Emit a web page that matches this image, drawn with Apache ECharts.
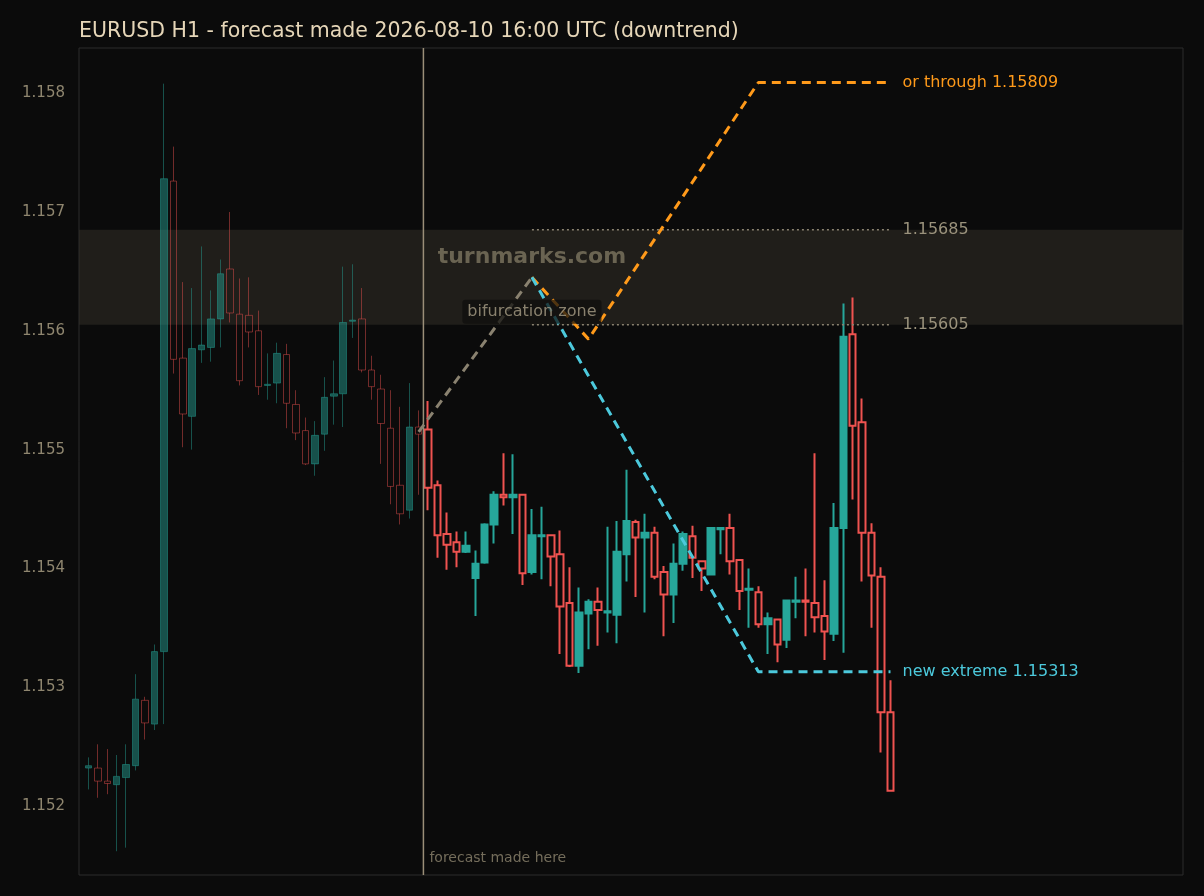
<!DOCTYPE html>
<html><head><meta charset="utf-8">
<script src="https://cdn.jsdelivr.net/npm/echarts@6/dist/echarts.min.js"></script>
<style>html,body{margin:0;background:#0b0b0b}#c{width:1204px;height:896px}</style>
</head><body><div id="c"></div>
<script>
// OHLC candles (index 0..85), forecast made after candle 35
const opens  = [1.15232,1.15232,1.15221,1.15218,1.15224,1.15234,1.15289,1.15269,1.15330,1.15726,1.15577,1.15528,1.15584,1.15586,1.15610,1.15652,1.15614,1.15613,1.15600,1.15554,1.15556,1.15580,1.15538,1.15516,1.15488,1.15513,1.15545,1.15547,1.15608,1.15610,1.15567,1.15551,1.15518,1.15470,1.15449,1.15519,
1.15517,1.15470,1.15429,1.15422,1.15414,1.15392,1.15405,1.15437,1.15462,1.15460,1.15462,1.15397,1.15427,1.15428,1.15412,1.15371,1.15318,1.15362,1.15372,1.15363,1.15361,1.15412,1.15439,1.15426,1.15430,1.15397,1.15378,1.15404,1.15427,1.15406,1.15395,1.15433,1.15434,1.15407,1.15382,1.15380,1.15353,1.15357,1.15340,1.15372,1.15373,1.15371,1.15360,1.15345,1.15434,1.15597,1.15523,1.15430,1.15393,1.15279];
const closes = [1.15234,1.15221,1.15219,1.15225,1.15235,1.15290,1.15270,1.15330,1.15728,1.15576,1.15530,1.15585,1.15588,1.15610,1.15648,1.15615,1.15558,1.15599,1.15553,1.15555,1.15581,1.15539,1.15514,1.15488,1.15512,1.15544,1.15547,1.15607,1.15609,1.15567,1.15553,1.15522,1.15469,1.15446,1.15519,1.15513,
1.15468,1.15428,1.15420,1.15414,1.15419,1.15404,1.15437,1.15462,1.15460,1.15462,1.15396,1.15428,1.15428,1.15410,1.15368,1.15318,1.15363,1.15372,1.15365,1.15364,1.15414,1.15440,1.15426,1.15430,1.15393,1.15378,1.15404,1.15429,1.15409,1.15400,1.15434,1.15434,1.15406,1.15381,1.15383,1.15353,1.15358,1.15336,1.15373,1.15373,1.15372,1.15359,1.15347,1.15434,1.15595,1.15520,1.15430,1.15394,1.15279,1.15213];
const lows   = [1.15214,1.15207,1.15210,1.15162,1.15165,1.15230,1.15256,1.15264,1.15269,1.15564,1.15502,1.15500,1.15573,1.15574,1.15586,1.15607,1.15554,1.15586,1.15546,1.15542,1.15539,1.15518,1.15508,1.15487,1.15478,1.15499,1.15521,1.15519,1.15594,1.15565,1.15542,1.15488,1.15454,1.15437,1.15442,1.15462,
1.15449,1.15409,1.15399,1.15401,1.15413,1.15360,1.15404,1.15421,1.15453,1.15429,1.15386,1.15395,1.15391,1.15385,1.15328,1.15317,1.15312,1.15332,1.15335,1.15346,1.15337,1.15389,1.15376,1.15363,1.15391,1.15343,1.15354,1.15398,1.15392,1.15381,1.15395,1.15412,1.15395,1.15365,1.15350,1.15350,1.15328,1.15321,1.15333,1.15358,1.15343,1.15346,1.15323,1.15339,1.15329,1.15458,1.15389,1.15350,1.15245,1.15213];
const highs  = [1.15241,1.15252,1.15248,1.15243,1.15252,1.15311,1.15292,1.15336,1.15808,1.15755,1.15641,1.15636,1.15671,1.15634,1.15660,1.15700,1.15644,1.15645,1.15617,1.15581,1.15590,1.15589,1.15550,1.15527,1.15524,1.15561,1.15575,1.15654,1.15656,1.15636,1.15579,1.15563,1.15550,1.15536,1.15556,1.15533,
1.15541,1.15474,1.15447,1.15431,1.15431,1.15415,1.15438,1.15465,1.15497,1.15496,1.15462,1.15450,1.15452,1.15428,1.15432,1.15401,1.15384,1.15374,1.15384,1.15435,1.15440,1.15483,1.15441,1.15446,1.15435,1.15402,1.15421,1.15431,1.15436,1.15406,1.15434,1.15434,1.15446,1.15407,1.15400,1.15385,1.15363,1.15357,1.15373,1.15393,1.15400,1.15497,1.15390,1.15455,1.15623,1.15628,1.15543,1.15438,1.15401,1.15306];
const forecastIndex = 36; // first candle after forecast
const bifHigh = 1.15685, bifLow = 1.15605;
const peak = 1.15645, startPrice = 1.15515;
const orangeDip = 1.15593, orangeTarget = 1.15809, cyanTarget = 1.15313;
const iStart = 35, iPeak = 47, iDip = 53, iTarget = 71, iEnd = 85;
const yMin = 1.15142, yMax = 1.15838;

const N = 118, off = 1;
const cats = Array.from({length:N}, (_, i) => String(i));
function candleData(from, to){
  const d = new Array(N).fill('-');
  for (let i = from; i < to; i++) d[i+off] = [opens[i], closes[i], lows[i], highs[i]];
  return d;
}
const G='#26a69a', R='#ef5350';
const endLbl = (txt,color)=>({show:true,distance:12,formatter:txt,color:color,fontSize:16,fontFamily:'DejaVu Sans'});
const chart = echarts.init(document.getElementById('c'));
chart.setOption({
  backgroundColor:'#0b0b0b',
  animation:false,
  title:{text:'EURUSD H1 - forecast made 2026-08-10 16:00 UTC (downtrend)',left:74,top:16,textStyle:{color:'#e6d6b8',fontSize:20.5,fontWeight:'normal',fontFamily:'DejaVu Sans'}},
  grid:{left:79,right:21,top:48,bottom:21,show:true,borderColor:'#2c2c2c',borderWidth:1,backgroundColor:'#0b0b0b'},
  xAxis:[{type:'category',data:cats,boundaryGap:false,show:false},
         {type:'value',min:0,max:N-1,show:false}],
  yAxis:{type:'value',min:yMin,max:yMax,interval:0.00002,
    axisLine:{show:false},axisTick:{show:false},splitLine:{show:false},
    axisLabel:{color:'#8f866f',fontSize:15,margin:14,fontFamily:'DejaVu Sans',
      formatter:v=>Math.abs(v*1000-Math.round(v*1000))<1e-6?v.toFixed(3):''}},
  series:[
    {type:'candlestick',name:'hist',data:candleData(0,forecastIndex),barWidth:7,
     itemStyle:{color:G,color0:'transparent',borderColor:G,borderColor0:R,borderWidth:1,opacity:0.45},
     markArea:{silent:true,itemStyle:{color:'rgba(58,54,44,0.45)'},data:[[{yAxis:bifLow,x:79},{yAxis:bifHigh,x:1183}]]}},
    {type:'candlestick',name:'fc',data:candleData(forecastIndex,opens.length),barWidth:7,
     itemStyle:{color:G,color0:'#0b0b0b',borderColor:G,borderColor0:R,borderWidth:2}},
    {type:'line',xAxisIndex:1,symbol:'none',data:[[iStart+off+0.5,yMin],[iStart+off+0.5,yMax]],lineStyle:{color:'#9a8e78',width:1.5}},
    {type:'line',xAxisIndex:1,symbol:'none',data:[[iPeak+off,bifHigh],[iEnd+off,bifHigh]],lineStyle:{color:'#8a8270',width:1.5,type:[2,3]},endLabel:endLbl('1.15685','#9a927c')},
    {type:'line',xAxisIndex:1,symbol:'none',data:[[iPeak+off,bifLow],[iEnd+off,bifLow]],lineStyle:{color:'#8a8270',width:1.5,type:[2,3]},endLabel:endLbl('1.15605','#9a927c')},
    {type:'line',xAxisIndex:1,symbol:'none',data:[[iStart+off,startPrice],[iPeak+off,peak]],lineStyle:{color:'#8a8270',width:3,type:[9,6]}},
    {type:'line',xAxisIndex:1,symbol:'none',data:[[iPeak+off,peak],[iDip+off,orangeDip],[iTarget+off,orangeTarget],[iEnd+off,orangeTarget]],lineStyle:{color:'#ff9a1a',width:3,type:[9,6]},endLabel:endLbl('or through 1.15809','#ff9a1a')},
    {type:'line',xAxisIndex:1,symbol:'none',data:[[iPeak+off,peak],[iTarget+off,cyanTarget],[iEnd+off,cyanTarget]],lineStyle:{color:'#4cc9dc',width:3,type:[9,6]},endLabel:endLbl('new extreme 1.15313','#4cc9dc')},
    {type:'scatter',xAxisIndex:1,symbolSize:0,silent:true,z:5,data:[
      {value:[iPeak+off,1.15662],label:{show:true,position:'inside',formatter:'turnmarks.com',color:'#7d7560',fontSize:22,fontWeight:'bold',fontFamily:'DejaVu Sans'}},
      {value:[iPeak+off,1.15616],label:{show:true,position:'inside',formatter:'bifurcation zone',color:'#a89e86',fontSize:16,fontFamily:'DejaVu Sans',backgroundColor:'rgba(14,14,12,0.9)',padding:[4,5],borderRadius:3}},
      {value:[iStart+off+0.5,1.15156],label:{show:true,position:'right',distance:6,formatter:'forecast made here',color:'#8f866f',fontSize:14,fontFamily:'DejaVu Sans'}}
    ]}
  ]
});
</script></body></html>
